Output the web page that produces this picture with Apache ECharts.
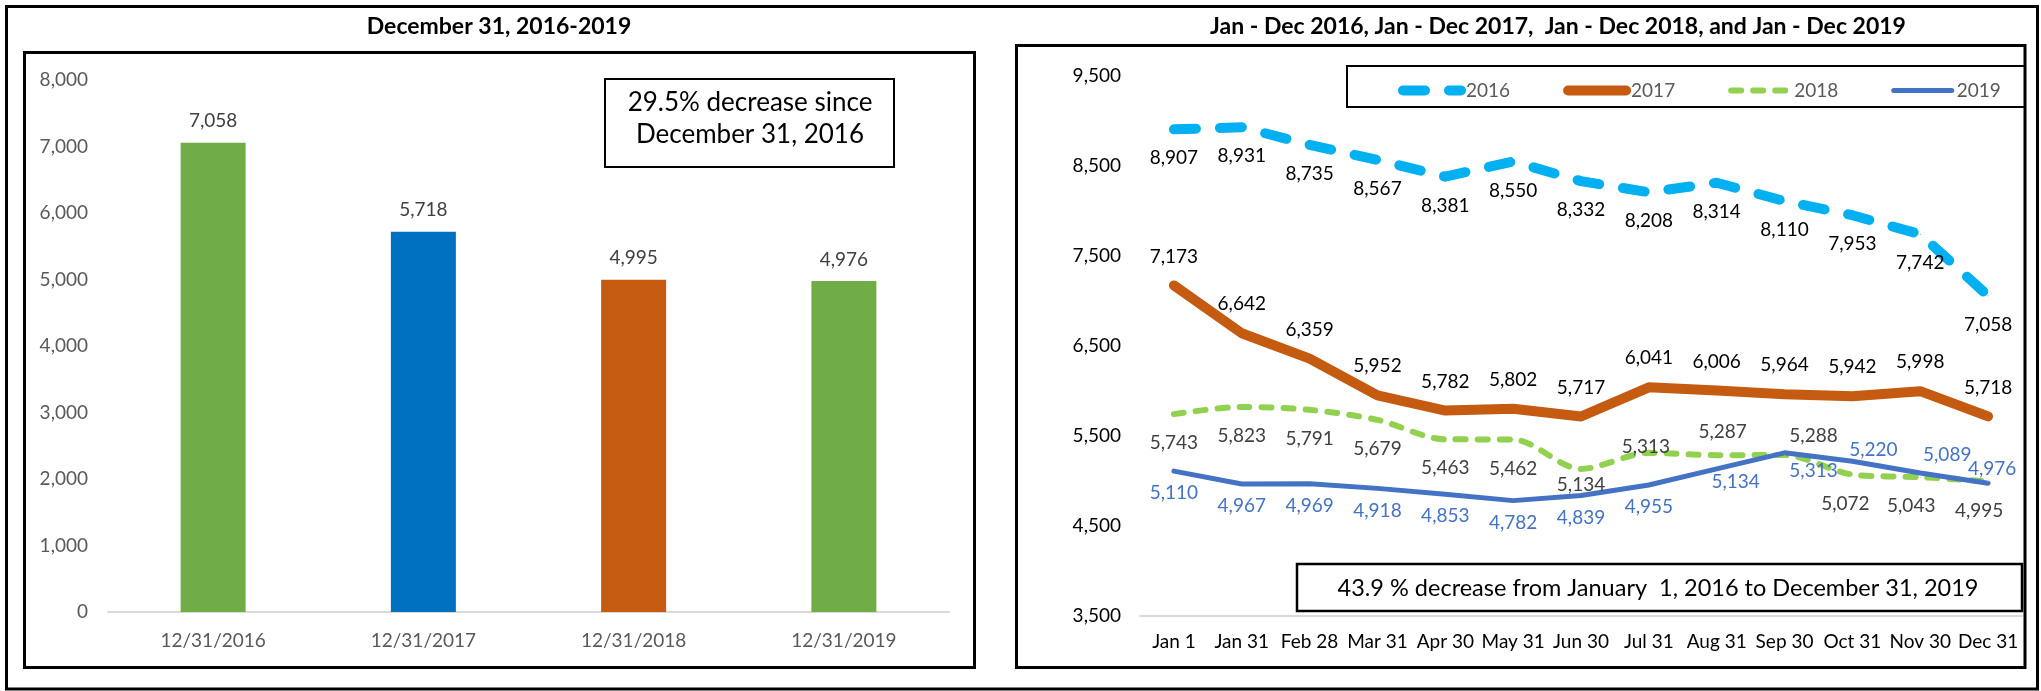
<!DOCTYPE html>
<html>
<head>
<meta charset="utf-8">
<script src="https://cdn.jsdelivr.net/npm/echarts@6/dist/echarts.min.js"></script>
<style>
  html, body { margin: 0; padding: 0; background: #fff; }
  #chart { width: 2041px; height: 691px; }
</style>
</head>
<body>
<div id="chart"></div>
<script>
// left chart: year-end totals
const barDates = ['12/31/2016', '12/31/2017', '12/31/2018', '12/31/2019']
const barValues = [7058, 5718, 4995, 4976]
const barColors = ['#70AD47', '#0070C0', '#C55A11', '#70AD47']

// right chart: month-end totals per year
const months = ['Jan 1', 'Jan 31', 'Feb 28', 'Mar 31', 'Apr 30', 'May 31', 'Jun 30', 'Jul 31', 'Aug 31', 'Sep 30', 'Oct 31', 'Nov 30', 'Dec 31']
const years = ['2016', '2017', '2018', '2019']
const values2016 = [8907, 8931, 8735, 8567, 8381, 8550, 8332, 8208, 8314, 8110, 7953, 7742, 7058]
const values2017 = [7173, 6642, 6359, 5952, 5782, 5802, 5717, 6041, 6006, 5964, 5942, 5998, 5718]
const values2018 = [5743, 5823, 5791, 5679, 5463, 5462, 5134, 5313, 5287, 5288, 5072, 5043, 4995]
const values2019 = [5110, 4967, 4969, 4918, 4853, 4782, 4839, 4955, 5134, 5313, 5220, 5089, 4976]

const FONT = 'Lato, "Liberation Sans", sans-serif'
const FS = 19
const fmt = v => v.toLocaleString('en-US')

// a few labels sit where Excel put them by hand
const tweaks2018 = {
  6: { position: 'bottom', distance: 6 },
  7: { position: 'top', distance: -4, offset: [-3, 0] },
  8: { position: 'top', distance: 13, offset: [6, 0] },
  9: { position: 'top', distance: 9, offset: [29, 0] },
  10: { offset: [-7, 0] },
  11: { offset: [-9, 0] },
  12: { offset: [-9, 0] }
}
const tweaks2019 = {
  8: { distance: 3, offset: [19, 0] },
  9: { distance: 8, offset: [29, 0] },
  10: { position: 'top', distance: 1, offset: [21, 0] },
  11: { position: 'top', distance: 8, offset: [27, 0] },
  12: { position: 'top', distance: 4, offset: [4, 0] }
}
const withTweaks = (vals, tweaks) => vals.map((v, i) => tweaks[i] ? { value: v, label: tweaks[i] } : v)

const chart = echarts.init(document.getElementById('chart'))

const lineLabel = (color, position, distance) => ({
  show: true, position, distance, color, fontFamily: FONT, fontSize: FS,
  formatter: p => fmt(p.value)
})

const box = (x1, y1, x2, y2, w) => ({
  type: 'rect', silent: true, z: 100,
  shape: { x: x1, y: y1, width: x2 - x1, height: y2 - y1 },
  style: { fill: null, stroke: '#000', lineWidth: w }
})

const lineBase = { type: 'line', xAxisIndex: 1, yAxisIndex: 1, symbol: 'circle', symbolSize: 1, showSymbol: true }

const option = {
  animation: false,
  textStyle: { fontFamily: FONT },
  grid: [
    { left: 108, top: 80, width: 841, height: 532 },
    { left: 1140, top: 76, width: 882, height: 540 }
  ],
  xAxis: [
    {
      gridIndex: 0, type: 'category', data: barDates,
      axisLine: { lineStyle: { color: '#D9D9D9', width: 2 } },
      axisTick: { show: false },
      axisLabel: { color: '#595959', fontSize: FS, margin: 19 }
    },
    {
      gridIndex: 1, type: 'category', data: months,
      axisLine: { lineStyle: { color: '#D9D9D9', width: 2 } },
      axisTick: { show: false },
      axisLabel: { color: '#000', fontSize: FS, margin: 16, interval: 0 }
    }
  ],
  yAxis: [
    {
      gridIndex: 0, type: 'value', min: 0, max: 8000, interval: 1000,
      axisLine: { show: false }, axisTick: { show: false }, splitLine: { show: false },
      axisLabel: { color: '#595959', fontSize: FS, margin: 20, formatter: fmt }
    },
    {
      gridIndex: 1, type: 'value', min: 3500, max: 9500, interval: 500,
      axisLine: { show: false }, axisTick: { show: false }, splitLine: { show: false },
      axisLabel: {
        color: '#000', fontSize: FS, margin: 19,
        formatter: v => ((v - 3500) % 1000 === 0 ? fmt(v) : '')
      }
    }
  ],
  legend: {
    data: years,
    left: 1393, top: 76,
    itemWidth: 58, itemHeight: 14, itemGap: 53,
    itemStyle: { opacity: 0 },
    lineStyle: { width: 'inherit' },
    textStyle: { color: '#595959', fontSize: FS, fontFamily: FONT }
  },
  series: [
    {
      type: 'bar', xAxisIndex: 0, yAxisIndex: 0, barWidth: 65,
      data: barValues.map((v, i) => ({ value: v, itemStyle: { color: barColors[i] } })),
      label: { show: true, position: 'top', distance: 12, color: '#404040', fontSize: FS, formatter: p => fmt(p.value) }
    },
    {
      ...lineBase, name: '2016',
      data: values2016, color: '#00B0F0',
      lineStyle: { width: 10, type: [22, 24], cap: 'round', join: 'round' },
      label: lineLabel('#000', 'bottom', 19)
    },
    {
      ...lineBase, name: '2017',
      data: values2017, color: '#C55A11',
      lineStyle: { width: 10, cap: 'round', join: 'round' },
      label: lineLabel('#000', 'top', 19)
    },
    {
      ...lineBase, name: '2018', smooth: 0.3,
      data: withTweaks(values2018, tweaks2018), color: '#92D050',
      lineStyle: { width: 6, type: [10, 12], cap: 'round' },
      label: lineLabel('#404040', 'bottom', 19)
    },
    {
      ...lineBase, name: '2019',
      data: withTweaks(values2019, tweaks2019), color: '#4472C4',
      lineStyle: { width: 5, cap: 'round', join: 'round' },
      label: lineLabel('#4472C4', 'bottom', 12)
    }
  ],
  graphic: [
    box(6.5, 6.5, 2037.5, 689, 3),
    box(24.5, 52.5, 974.5, 667.5, 3),
    box(1016.5, 45.5, 2025, 667.5, 3),
    box(1347, 66, 2025, 107, 2),
    box(605, 79, 894, 167, 2),
    box(1297, 564, 2022, 611, 2.5),
    {
      type: 'text', x: 499, y: 27, silent: true,
      style: { text: 'December 31, 2016-2019', font: 'bold 23px ' + FONT, fill: '#000', align: 'center', verticalAlign: 'middle' }
    },
    {
      type: 'text', x: 1558, y: 27, silent: true,
      style: { text: 'Jan - Dec 2016, Jan - Dec 2017,  Jan - Dec 2018, and Jan - Dec 2019', font: 'bold 23px ' + FONT, fill: '#000', align: 'center', verticalAlign: 'middle' }
    },
    {
      type: 'text', x: 750, y: 119, silent: true,
      style: { text: '29.5% decrease since\nDecember 31, 2016', font: '26px ' + FONT, lineHeight: 32, fill: '#000', align: 'center', verticalAlign: 'middle' }
    },
    {
      type: 'text', x: 1658, y: 588, silent: true,
      style: { text: '43.9 % decrease from January  1, 2016 to December 31, 2019', font: '23.5px ' + FONT, fill: '#000', align: 'center', verticalAlign: 'middle' }
    }
  ]
}

chart.setOption(option)
window.addEventListener('resize', () => chart.resize())
</script>
</body>
</html>
